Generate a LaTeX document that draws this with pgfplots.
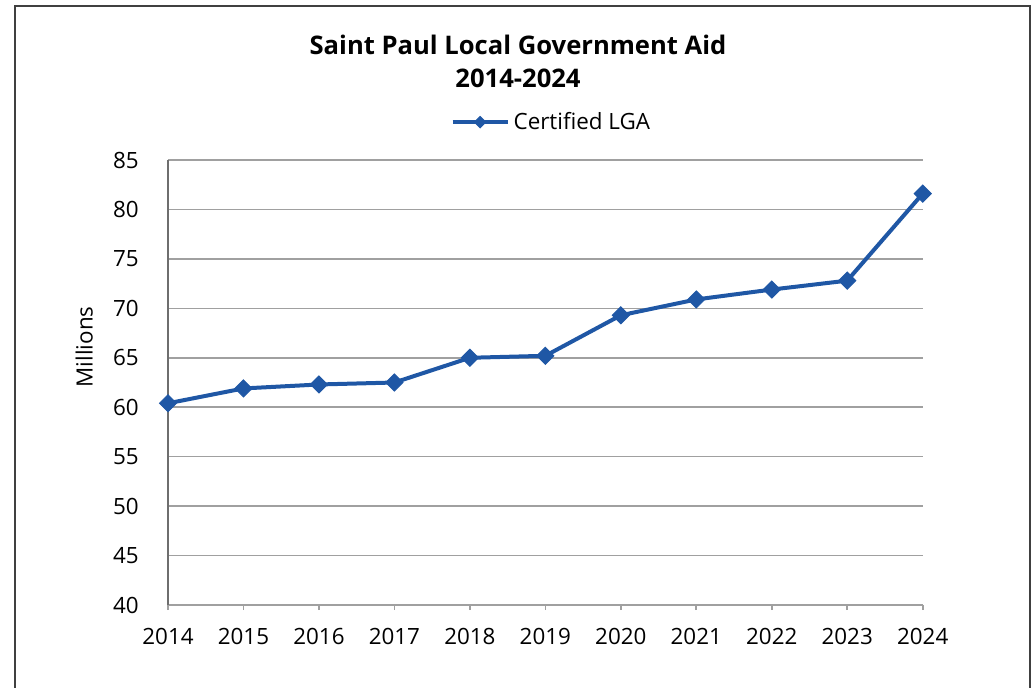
\documentclass[border=0pt]{standalone}
\usepackage{fontspec}
\setmainfont{Open Sans}
\usepackage{pgfplots}
\pgfplotsset{compat=1.18}
\definecolor{lga}{RGB}{31,87,165}
\definecolor{gridc}{RGB}{160,160,160}
\definecolor{axisc}{RGB}{110,110,110}
\definecolor{framec}{RGB}{64,64,64}
\begin{document}
\begin{tikzpicture}[x=1pt,y=1pt]
\begin{axis}[
  at={(0,0)}, anchor=south west,
  scale only axis, width=377.35pt, height=222.5pt,
  xmin=2014, xmax=2024, ymin=40, ymax=85,
  xtick={2014,2015,...,2024}, ytick={40,45,...,85},
  axis x line*=bottom, axis y line*=left,
  x axis line style={gridc, line width=0.8pt},
  y axis line style={axisc, line width=0.8pt},
  ymajorgrids, grid style={gridc, line width=0.8pt},
  ytick style={draw=none},
  xtick style={gridc, line width=0.8pt},
  tick align=outside, major tick length=2.6pt,
  ticklabel style={font=\fontsize{11.2}{14}\selectfont},
  xticklabel style={yshift=-5.3pt},
  yticklabel style={xshift=-8.5pt},
  /pgf/number format/assume math mode=true,
  /pgf/number format/1000 sep={},
  ylabel={Millions},
  ylabel style={at={(axis description cs:-0.111,0.58)}, anchor=center, font=\fontsize{11.2}{14}\selectfont},
  legend style={at={(axis description cs:0.374,1.085)}, anchor=west, draw=none, fill=none, inner sep=0pt, font=\fontsize{11.2}{14}\selectfont},
  legend cell align=left,
  legend image code/.code={\draw[mark repeat=2,mark phase=2, mark size=2pt] plot coordinates {(0pt,0pt) (13.75pt,0pt) (27.5pt,0pt)};},
  clip=false,
]
\addplot[lga, line width=2pt, mark=square*, mark size=3pt, mark options={rotate=45, solid, fill=lga, line width=0.5pt}]
  coordinates {
  (2014,60.4) (2015,61.9) (2016,62.3) (2017,62.5) (2018,65.0) (2019,65.2)
  (2020,69.3) (2021,70.9) (2022,71.9) (2023,72.8) (2024,81.6)
  };
\addlegendentry{Certified LGA}
\end{axis}
\node[font=\bfseries\fontsize{12.8}{16.5}\selectfont, align=center] at (175,271.75) {Saint Paul Local Government Aid\\2014-2024};
\draw[framec, line width=1pt] (-76.5,-60) -- (-76.5,299.5) -- (431,299.5) -- (431,-60);
\pgfresetboundingbox
\useasboundingbox (-84,-41) rectangle (433,302.5);
\end{tikzpicture}
\end{document}
